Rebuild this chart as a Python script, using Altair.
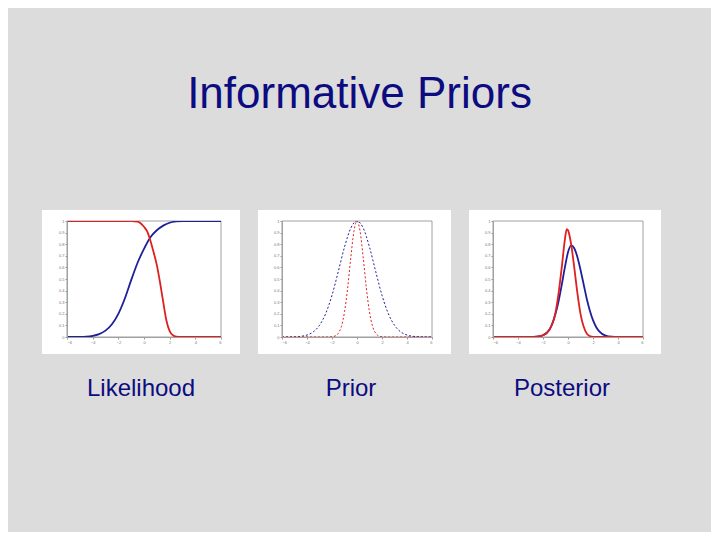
import altair as alt
import pandas as pd

TITLE = "Informative Priors"
PANEL_LABELS = ["Likelihood", "Prior", "Posterior"]

X_TICKS = [-6, -4, -2, 0, 2, 4, 6]
Y_TICKS = [0, 0.1, 0.2, 0.3, 0.4, 0.5, 0.6, 0.7, 0.8, 0.9, 1]

# --- Likelihood panel ---
lik_blue_x = [-6, -5.5, -5, -4.5, -4, -3.5, -3, -2.5, -2, -1.5, -1, -0.5, 0, 0.5, 1, 1.5, 2, 2.5, 3, 4, 5, 6]
lik_blue_y = [0, 0.0005, 0.001, 0.003, 0.01, 0.025, 0.055, 0.11, 0.2, 0.33, 0.49, 0.64, 0.76, 0.86, 0.92, 0.96, 0.985, 0.996, 1, 1, 1, 1]
lik_red_x = [-6, -5, -4, -3, -2, -1, -0.5, 0, 0.25, 0.5, 0.75, 1, 1.25, 1.5, 1.75, 2, 2.25, 2.5, 3, 4, 5, 6]
lik_red_y = [1, 1, 1, 1, 1, 1, 0.995, 0.95, 0.91, 0.83, 0.73, 0.62, 0.47, 0.3, 0.14, 0.05, 0.015, 0.004, 0, 0, 0, 0]

# --- Prior panel ---
pri_blue_x = [-6, -5.5, -5, -4.5, -4, -3.5, -3, -2.5, -2, -1.5, -1, -0.5, 0, 0.5, 1, 1.5, 2, 2.5, 3, 3.5, 4, 4.5, 5, 5.5, 6]
pri_blue_y = [0.0001, 0.0004, 0.0017, 0.0057, 0.017, 0.044, 0.101, 0.203, 0.36, 0.563, 0.775, 0.938, 1, 0.938, 0.775, 0.563, 0.36, 0.203, 0.101, 0.044, 0.017, 0.0057, 0.0017, 0.0004, 0.0001]
pri_red_x = [-6, -4, -3, -2.5, -2, -1.75, -1.5, -1.25, -1, -0.75, -0.5, -0.25, 0, 0.25, 0.5, 0.75, 1, 1.25, 1.5, 1.75, 2, 2.5, 3, 4, 6]
pri_red_y = [0, 0, 0, 0, 0.002, 0.009, 0.031, 0.09, 0.215, 0.421, 0.681, 0.908, 1, 0.908, 0.681, 0.421, 0.215, 0.09, 0.031, 0.009, 0.002, 0, 0, 0, 0]

# --- Posterior panel ---
post_blue_x = [-6, -4, -3, -2.5, -2, -1.5, -1, -0.75, -0.5, -0.25, 0, 0.25, 0.5, 0.75, 1, 1.25, 1.5, 1.75, 2, 2.25, 2.5, 3, 3.5, 4, 6]
post_blue_y = [0, 0, 0, 0.003, 0.015, 0.06, 0.2, 0.31, 0.45, 0.6, 0.73, 0.79, 0.765, 0.69, 0.58, 0.455, 0.33, 0.227, 0.145, 0.086, 0.048, 0.012, 0.002, 0, 0]
post_red_x = [-6, -4, -3, -2.5, -2, -1.5, -1, -0.75, -0.5, -0.25, -0.1, 0, 0.25, 0.5, 0.75, 1, 1.25, 1.5, 1.75, 2, 2.5, 3, 4, 6]
post_red_y = [0, 0, 0, 0.003, 0.015, 0.06, 0.21, 0.38, 0.6, 0.84, 0.93, 0.92, 0.8, 0.6, 0.38, 0.2, 0.09, 0.03, 0.008, 0.001, 0, 0, 0, 0]

BLUE = "#1f1f99"
RED = "#dd2020"
NAVY = "#0c0c80"
BG = "#dcdcdc"


def frame(xb, yb, xr, yr):
    rows = [{"x": a, "y": b, "s": "blue"} for a, b in zip(xb, yb)]
    rows += [{"x": a, "y": b, "s": "red"} for a, b in zip(xr, yr)]
    return pd.DataFrame(rows)


def axis(vals, fmt):
    return alt.Axis(values=vals, title=None, zindex=2, format=fmt, labelFontSize=4,
                    labelColor="#777777", tickSize=2, tickColor="#999999",
                    domainColor="#a0a0a0", grid=False, labelPadding=1,
                    labelFont="Liberation Sans", labelOverlap=False)


def panel(df, label, w, left, right, dx, dashed=False, width_px=1.8):
    h = 116
    one = pd.DataFrame({"k": [0]})
    box = alt.Chart(one).mark_rect(color="white").encode(
        x=alt.value(-left), x2=alt.value(w + right),
        y=alt.value(-11), y2=alt.value(h + 17),
    )
    border = alt.Chart(one).mark_rect(fillOpacity=0, stroke="#a0a0a0", strokeWidth=1).encode(
        x=alt.value(0), x2=alt.value(w), y=alt.value(0), y2=alt.value(h),
    )
    line_kw = dict(strokeWidth=width_px, interpolate="monotone", clip=True)
    if dashed:
        line_kw["strokeDash"] = [2, 2]
        line_kw["strokeWidth"] = 1
    lines = alt.Chart(df).mark_line(**line_kw).encode(
        x=alt.X("x:Q", scale=alt.Scale(domain=[-6, 6], nice=False, zero=False),
                axis=axis(X_TICKS, "d")),
        y=alt.Y("y:Q", scale=alt.Scale(domain=[0, 1], nice=False),
                axis=axis(Y_TICKS, "~g")),
        color=alt.Color("s:N", scale=alt.Scale(domain=["blue", "red"], range=[BLUE, RED]), legend=None),
        order=alt.Order("x:Q"),
    )
    return alt.layer(box, border, lines).properties(
        width=w, height=h,
        title=alt.TitleParams(label, orient="bottom", frame="group", anchor="middle",
                              dx=dx, offset=23, fontSize=24, font="Liberation Sans",
                              fontWeight="normal", color=NAVY),
    )


p1 = panel(frame(lik_blue_x, lik_blue_y, lik_red_x, lik_red_y), PANEL_LABELS[0], 154, 25, 19, -3)
p2 = panel(frame(pri_blue_x, pri_blue_y, pri_red_x, pri_red_y), PANEL_LABELS[1], 150, 24, 19, -6, dashed=True)
p3 = panel(frame(post_blue_x, post_blue_y, post_red_x, post_red_y), PANEL_LABELS[2], 150, 24, 18, -6)

chart = alt.hconcat(p1, p2, p3, spacing=18).properties(
    title=alt.TitleParams(TITLE, fontSize=44, font="Liberation Sans", fontWeight="normal",
                          color=NAVY, anchor="middle", dx=8, offset=93),
    padding={"left": 34, "top": 65, "right": 50, "bottom": 131},
    background=BG,
).configure_view(
    stroke=None, fill="white"
)

chart.save("out.html", embed_options={"renderer": "svg", "actions": False})
